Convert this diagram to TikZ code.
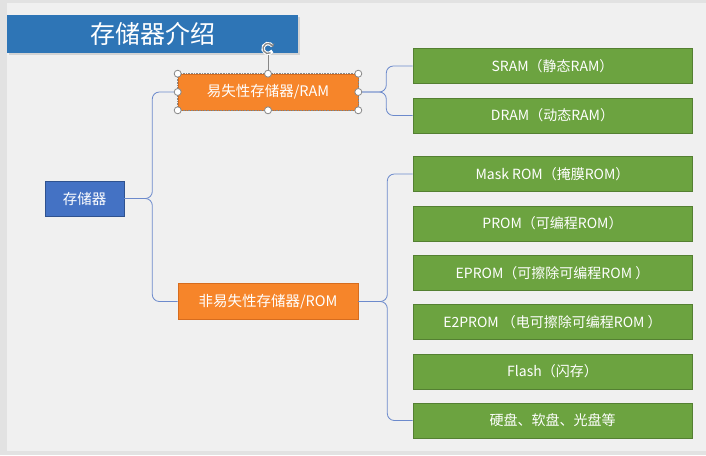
\documentclass[tikz,border=0pt]{standalone}
\usepackage{xcolor}
\usepackage{fontspec}
\usepackage{tikz}
\usetikzlibrary{positioning,calc,arrows.meta,shadows}
\newfontfamily\cjk{Noto Sans CJK SC}
\definecolor{slidebg}{RGB}{240,240,240}
\definecolor{outerbg}{RGB}{226,226,226}
\definecolor{headblue}{RGB}{46,117,182}
\definecolor{rootblue}{RGB}{68,114,196}
\definecolor{rootedge}{RGB}{47,82,143}
\definecolor{memorange}{RGB}{246,133,42}
\definecolor{orangeedge}{RGB}{214,108,30}
\definecolor{leafgreen}{RGB}{108,163,64}
\definecolor{greenedge}{RGB}{84,128,50}
\definecolor{linkblue}{RGB}{108,138,204}
\definecolor{handlegray}{RGB}{135,135,135}

\begin{document}
\begin{tikzpicture}[
      x=1pt, y=-1pt,
      banner/.style={rectangle, fill=headblue, text=white, minimum width=291pt, minimum height=38pt, inner sep=0pt, font=\cjk\fontsize{25}{30}\selectfont, drop shadow={opacity=0.25, shadow xshift=1.5pt, shadow yshift=-1.5pt}},
      root/.style={rectangle, fill=rootblue, draw=rootedge, line width=0.6pt, text=white, minimum width=79pt, minimum height=35pt, inner sep=0pt, font=\cjk\fontsize{14.5}{17}\selectfont},
      branch/.style={rectangle, fill=memorange, draw=orangeedge, line width=0.6pt, text=white, minimum width=180pt, minimum height=36pt, inner sep=0pt, font=\cjk\fontsize{14.5}{17}\selectfont},
      leaf/.style={rectangle, fill=leafgreen, draw=greenedge, line width=0.6pt, text=white, minimum width=279pt, minimum height=35pt, inner sep=0pt, font=\cjk\fontsize{14}{17}\selectfont},
      link/.style={draw=linkblue, line width=0.8pt, rounded corners=7pt},
      grip/.style={circle, fill=white, draw=handlegray, line width=0.8pt, minimum size=7pt, inner sep=0pt},
    ]
    % slide background
    \fill [outerbg] (0,0) rectangle (706,455);
    \fill [slidebg] (7,3) rectangle (706,451);
    \useasboundingbox (0,0) rectangle (706,455);
    % heading
    \node [banner] (heading) at (152.5,34) {存储器介绍};
    % root and the two memory kinds
    \node [root] (mem) at (84.5,198.5) {存储器};
    \node [branch] (ram) at (268,92) {易失性存储器/RAM};
    \node [branch] (rom) at (268,301.5) {非易失性存储器/ROM};
    % RAM leaves
    \node [leaf] (sram) at (552.5,66) {SRAM（静态RAM）};
    \node [leaf] (dram) at (552.5,115.5) {DRAM（动态RAM）};
    % ROM leaves
    \node [leaf] (mask) at (552.5,174) {Mask ROM（掩膜ROM）};
    \node [leaf] (prom) at (552.5,223.5) {PROM（可编程ROM）};
    \node [leaf] (eprom) at (552.5,273) {EPROM（可擦除可编程ROM ）};
    \node [leaf] (eeprom) at (552.5,322) {E2PROM （电可擦除可编程ROM ）};
    \node [leaf] (flash) at (552.5,371.5) {Flash（闪存）};
    \node [leaf] (disk) at (552.5,420.5) {硬盘、软盘、光盘等};
    % brace connectors
    \draw [link] (mem.east) -- ++(28,0) |- (ram.west);
    \draw [link] (mem.east) -- ++(28,0) |- (rom.west);
    \draw [link] (ram.east) -- ++(28,0) |- (sram.west);
    \draw [link] (ram.east) -- ++(28,0) |- (dram.west);
    \draw [link] (rom.east) -- ++(29,0) |- (mask.west);
    \draw [link] (rom.east) -- ++(29,0) |- (disk.west);
    % selection frame on the RAM box
    \draw [handlegray, densely dotted, line width=0.6pt] (ram.north west) rectangle (ram.south east);
    \coordinate (spin) at (268,48.5);
    \draw [handlegray, line width=0.8pt] (ram.north) -- ($(spin)+(0,6)$);
    \draw [white, line width=3.4pt] (spin) ++(30:5) arc (30:330:5);
    \draw [handlegray, line width=1.3pt, -{Stealth[length=3.5pt,width=5pt]}] (spin) ++(60:5) arc (60:345:5);
    \foreach \a in {north west, north, north east, west, east, south west, south, south east}
      \node [grip] at (ram.\a) {};
  \end{tikzpicture}
\end{document}
